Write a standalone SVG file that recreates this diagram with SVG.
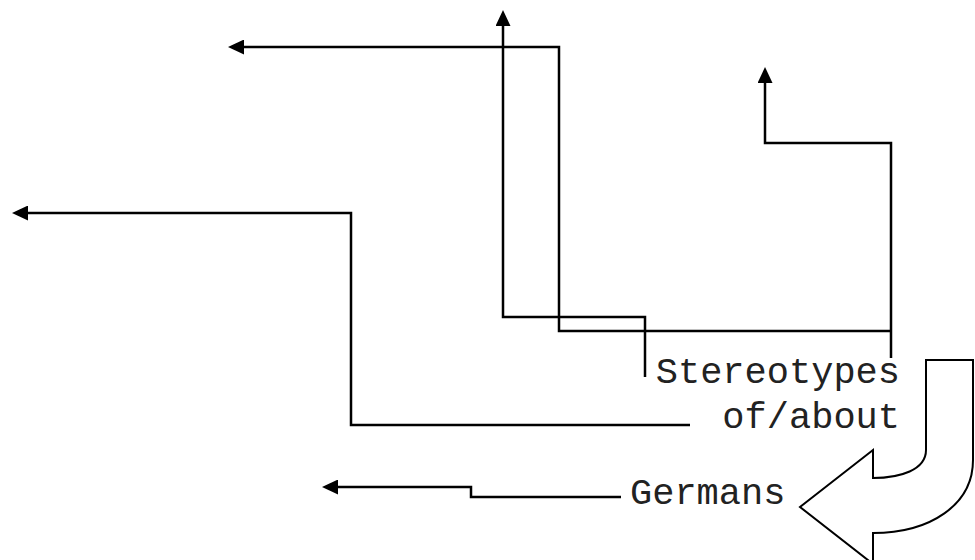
<svg xmlns="http://www.w3.org/2000/svg" width="975" height="560" viewBox="0 0 975 560">
<style>
.conn{fill:none;stroke:#000;stroke-width:2.5;stroke-linejoin:miter}
.lbl{font-family:"Liberation Mono","Courier New",monospace;font-size:37px;fill:#222}
.bigarrow{fill:#fff;stroke:#000;stroke-width:2}
</style>
<defs>
<marker id="ah" markerUnits="userSpaceOnUse" markerWidth="16" markerHeight="15" refX="0" refY="7.5" orient="auto">
<path d="M0,0 L16,7.5 L0,15 Z" fill="#000"/>
</marker>
</defs>
<rect width="975" height="560" fill="#fff"/>
<g id="connectors">
<path class="conn" d="M645,377 V317 H503 V26" marker-end="url(#ah)"/>
<path class="conn" d="M891,358 V143 H765 V83" marker-end="url(#ah)"/>
<path class="conn" d="M891,331 H559 V47 H244" marker-end="url(#ah)"/>
<path class="conn" d="M690,425 H351 V213 H28" marker-end="url(#ah)"/>
<path class="conn" d="M621,497 H471 V487 H338" marker-end="url(#ah)"/>
</g>
<g id="node-stereotypes">
<text class="lbl" x="900" y="383" text-anchor="end">Stereotypes</text>
<text class="lbl" x="900" y="428" text-anchor="end">of/about</text>
</g>
<g id="node-germans">
<text class="lbl" x="630" y="504">Germans</text>
</g>
<g id="node-curved-arrow">
<path class="bigarrow" d="M926,360 H973 V460 C973,505 930,533 873,533 V564 L800,507 L873,450 V478 C900,478 926,470 926,450 Z"/>
</g>
</svg>
